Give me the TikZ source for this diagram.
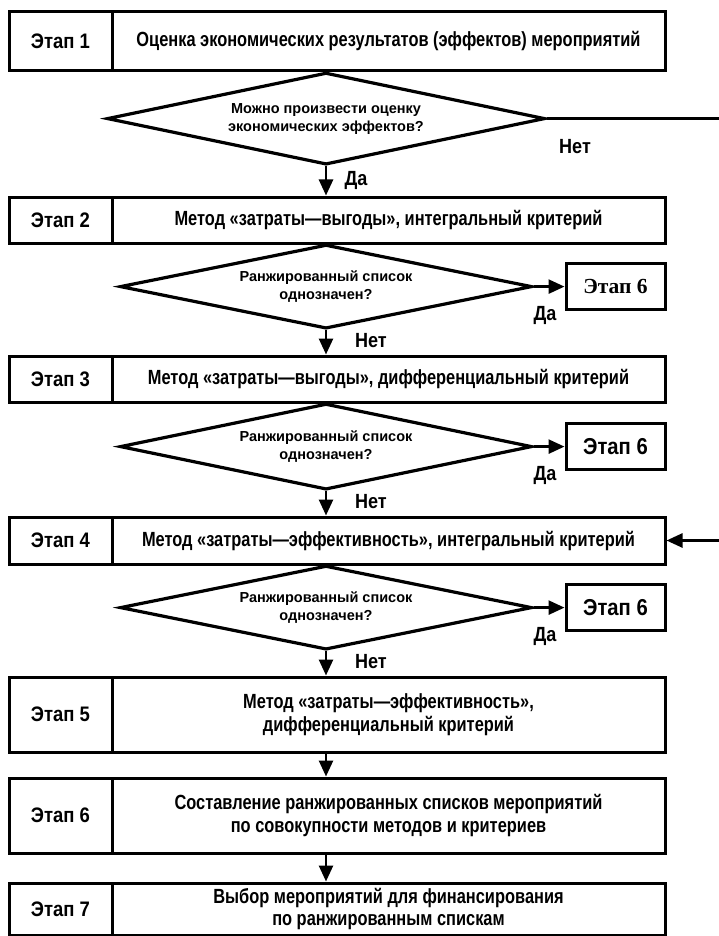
\documentclass[tikz,border=0pt]{standalone}
\usepackage{fontspec}
\setmainfont{Liberation Sans}[FakeStretch=0.88]
\newfontfamily\narrowfont{Liberation Sans}[FakeStretch=0.8]
\newfontfamily\plainsans{Liberation Sans}
\newfontfamily\serifsix{Liberation Serif}
\usetikzlibrary{shapes.geometric,arrows.meta}

\begin{document}
\begin{tikzpicture}[x=1pt,y=-1pt,
    stagecell/.style={draw,line width=3pt,minimum width=103pt,inner sep=0pt,
        font=\bfseries\fontsize{21}{24}\selectfont},
    desccell/.style={draw,line width=3pt,minimum width=553pt,inner sep=0pt,
        align=center,font=\narrowfont\bfseries\fontsize{20.5}{22.5}\selectfont},
    decision/.style={draw,diamond,line width=3.2pt,inner sep=0pt,aspect=4.9,
        align=center,font=\plainsans\bfseries\fontsize{14.5}{18}\selectfont},
    sixbox/.style={draw,line width=3pt,minimum width=99pt,minimum height=46pt,
        inner sep=0pt,anchor=east,font=\bfseries\fontsize{23}{26}\selectfont},
    answer/.style={font=\bfseries\fontsize{20.5}{22}\selectfont},
    flow/.style={line width=2.6pt,-{Triangle[width=14pt,length=16pt]}}]
  \useasboundingbox (0,0) rectangle (719,936);
  \coordinate (edge) at (719,0);

  % stages
  \node[stagecell,minimum height=59pt] (s1) at (60.5,41.5) {Этап 1};
  \node[desccell,minimum height=59pt] (d1) at (388.5,41.5)
      {Оценка экономических результатов (эффектов) мероприятий};
  \node[stagecell,minimum height=46pt] (s2) at (60.5,220) {Этап 2};
  \node[desccell,minimum height=46pt] (d2) at (388.5,220)
      {Метод «затраты—выгоды», интегральный критерий};
  \node[stagecell,minimum height=46pt] (s3) at (60.5,379) {Этап 3};
  \node[desccell,minimum height=46pt] (d3) at (388.5,379)
      {Метод «затраты—выгоды», дифференциальный критерий};
  \node[stagecell,minimum height=47pt] (s4) at (60.5,540.5) {Этап 4};
  \node[desccell,minimum height=47pt] (d4) at (388.5,540.5)
      {Метод «затраты—эффективность», интегральный критерий};
  \node[stagecell,minimum height=75pt] (s5) at (60.5,714.5) {Этап 5};
  \node[desccell,minimum height=75pt] (d5) at (388.5,714.5)
      {Метод «затраты—эффективность»,\\дифференциальный критерий};
  \node[stagecell,minimum height=75pt] (s6) at (60.5,815.5) {Этап 6};
  \node[desccell,minimum height=75pt] (d6) at (388.5,815.5)
      {Составление ранжированных списков мероприятий\\по совокупности методов и критериев};
  \node[stagecell,minimum height=52pt] (s7) at (60.5,909) {Этап 7};
  \node[desccell,minimum height=52pt] (d7) at (388.5,909)
      {Выбор мероприятий для финансирования\\по ранжированным спискам};

  % decisions
  \node[decision,minimum width=438pt,minimum height=92pt,anchor=north] (q1) at (326,71)
      {Можно произвести оценку\\экономических эффектов?};
  \node[decision,minimum width=412pt,minimum height=84pt,anchor=north] (q2) at (326,243)
      {Ранжированный список\\однозначен?};
  \node[decision,minimum width=412pt,minimum height=86pt,anchor=north] (q3) at (326,402)
      {Ранжированный список\\однозначен?};
  \node[decision,minimum width=412pt,minimum height=84pt,anchor=north] (q4) at (326,564)
      {Ранжированный список\\однозначен?};

  \node[sixbox,font=\serifsix\bfseries\fontsize{21.5}{24}\selectfont] (r2) at (q2 -| d1.east) {Этап 6};
  \node[sixbox] (r3) at (q3 -| d1.east) {Этап 6};
  \node[sixbox] (r4) at (q4 -| d1.east) {Этап 6};

  % connectors
  \draw[flow] (q1.south) -- (q1.south |- d2.north);
  \draw[flow] (q2.south) -- (q2.south |- d3.north);
  \draw[flow] (q3.south) -- (q3.south |- d4.north);
  \draw[flow] (q4.south) -- (q4.south |- d5.north);
  \draw[flow] (d5.south -| q1.south) -- (d6.north -| q1.south);
  \draw[flow] (d6.south -| q1.south) -- (d7.north -| q1.south);
  \draw[flow] (q2.east) -- (r2.west);
  \draw[flow] (q3.east) -- (r3.west);
  \draw[flow] (q4.east) -- (r4.west);
  \draw[line width=2.6pt] (q1.east) -- (q1.east -| edge);
  \draw[flow] (edge |- d4.east) -- (d4.east);

  % answers
  \node[answer] (a1) at (356,180) {Да};
  \node[answer] (n1) at (575,147) {Нет};
  \node[answer] (a2) at (545,315) {Да};
  \node[answer] (n2) at (371,341) {Нет};
  \node[answer] (a3) at (545,475) {Да};
  \node[answer] (n3) at (371,502) {Нет};
  \node[answer] (a4) at (545,636) {Да};
  \node[answer] (n4) at (371,662) {Нет};
\end{tikzpicture}
\end{document}
